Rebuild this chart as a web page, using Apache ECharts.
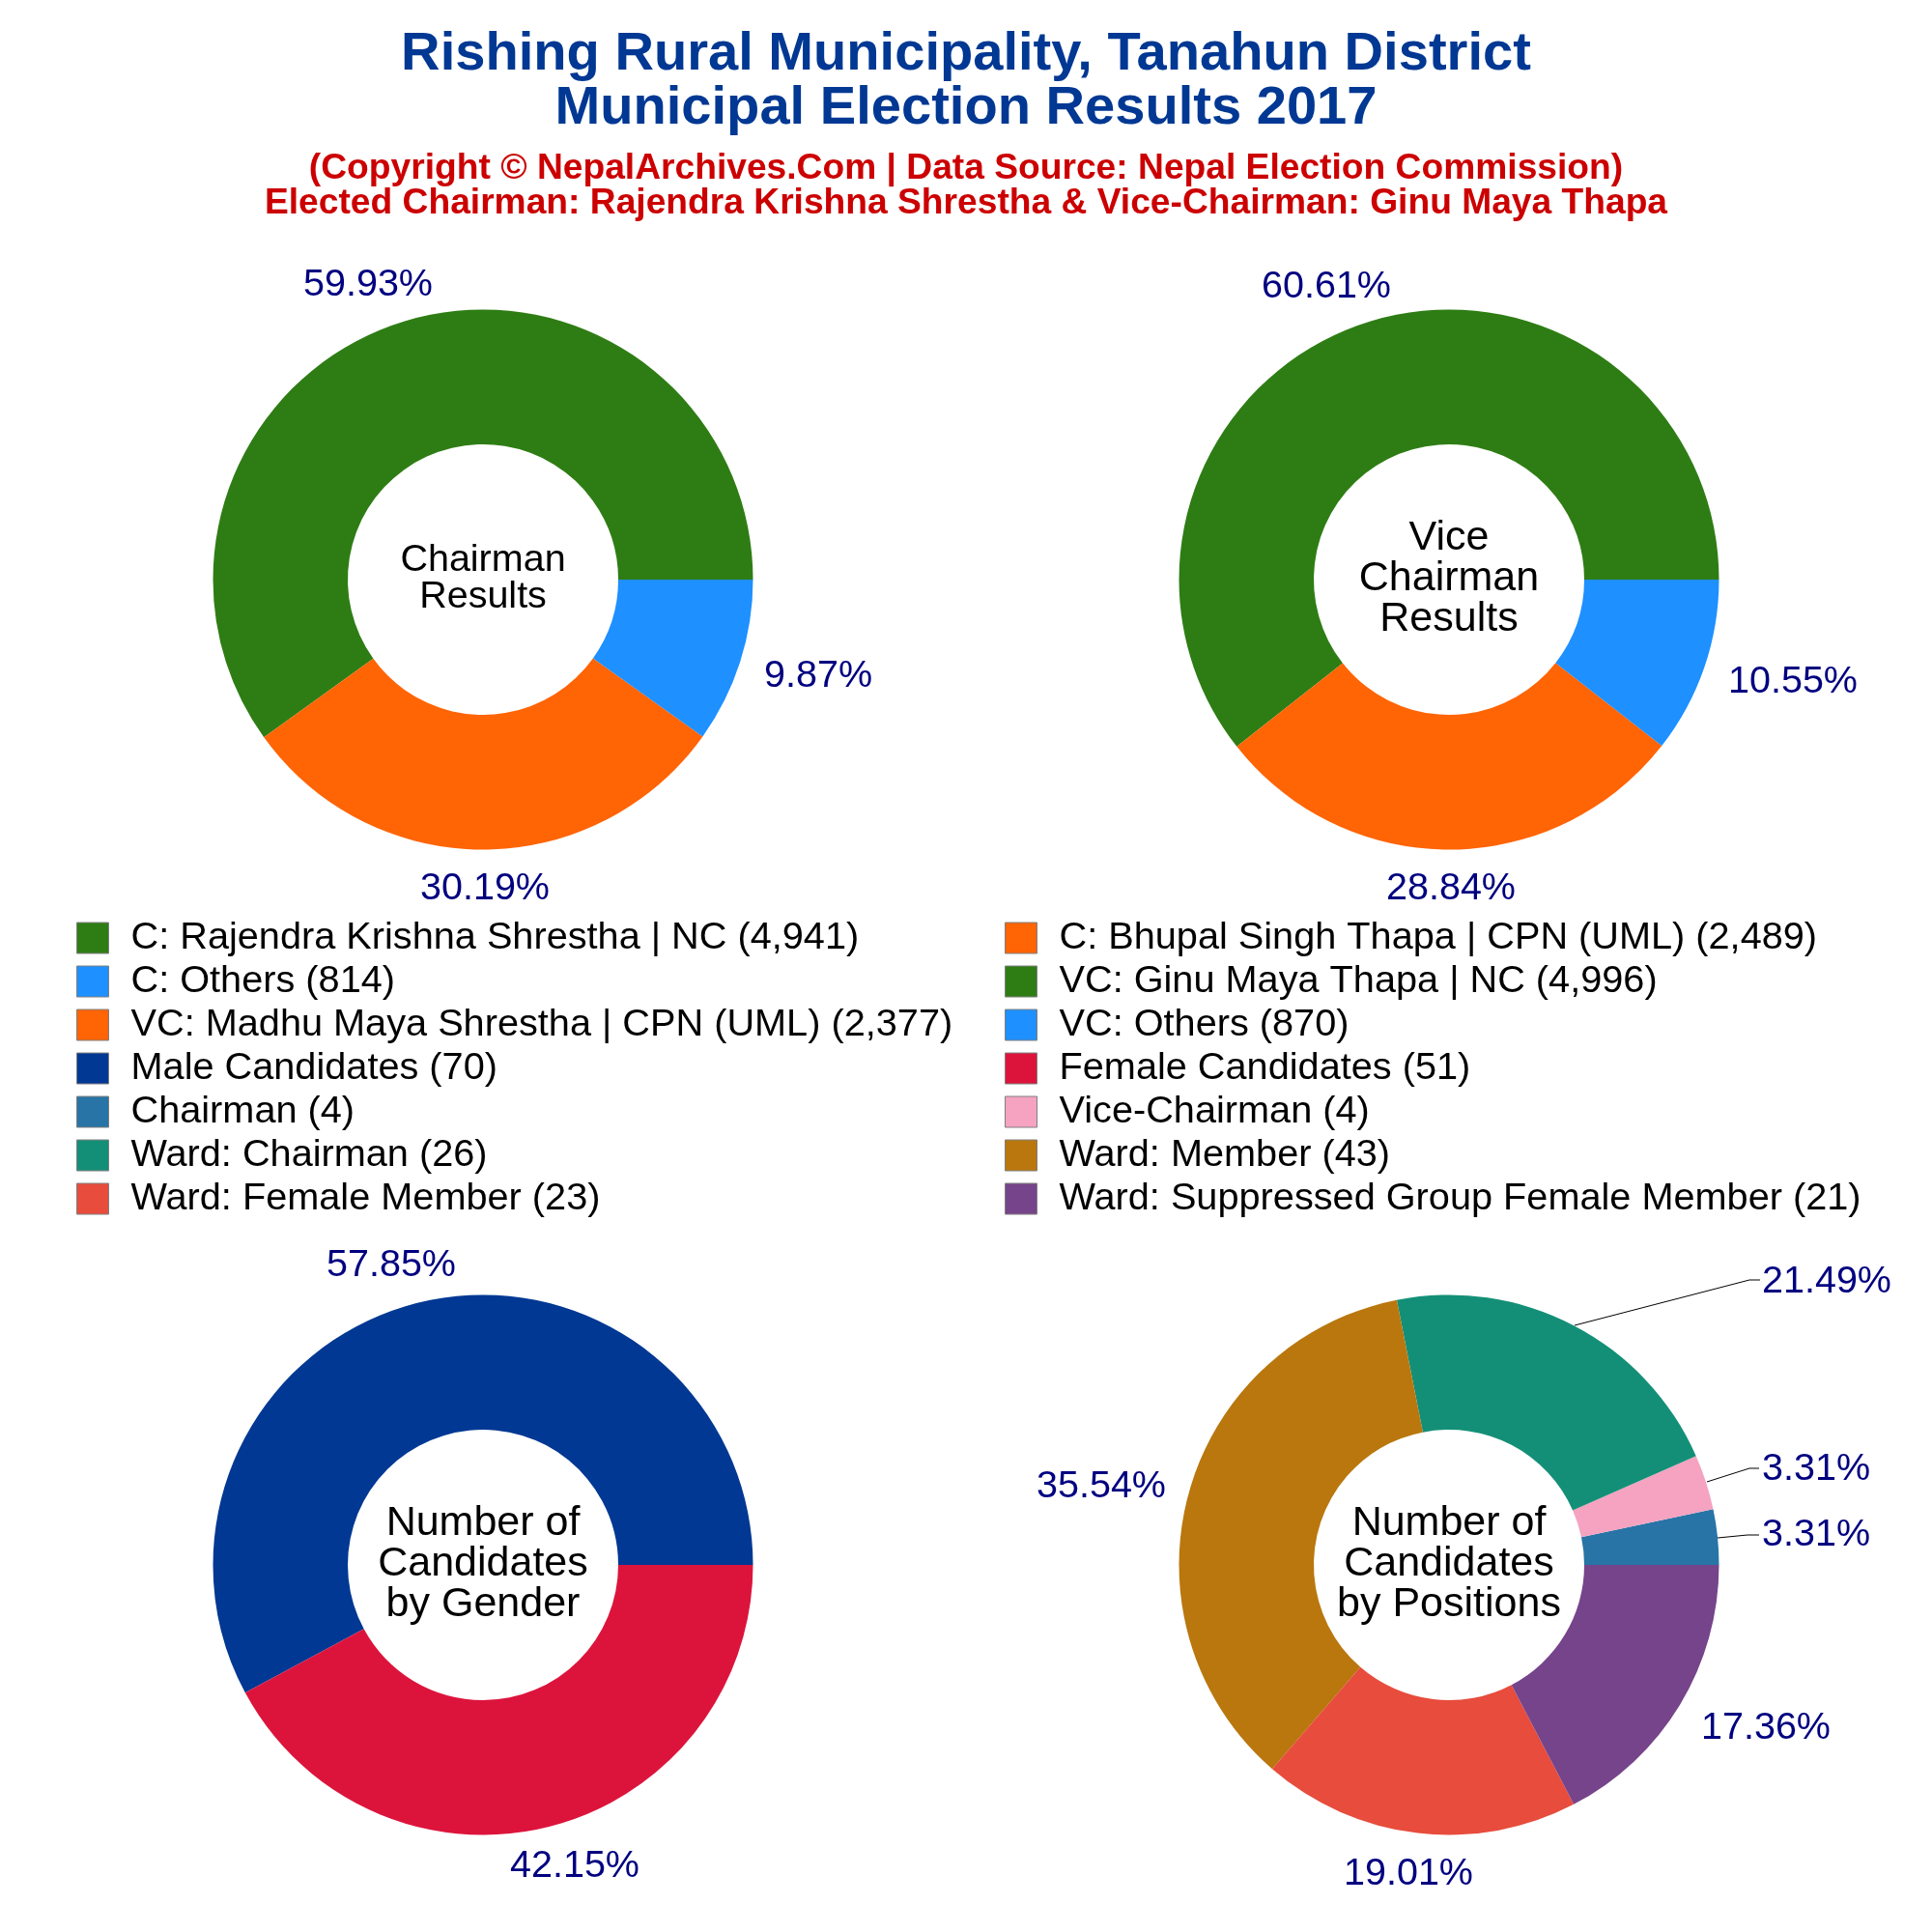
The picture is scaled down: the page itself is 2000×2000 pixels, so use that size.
<!DOCTYPE html>
<html>
<head>
<meta charset="utf-8">
<script src="https://cdn.jsdelivr.net/npm/echarts@6/dist/echarts.min.js"></script>
<style>
  html, body { margin: 0; padding: 0; background: #fff; }
  #chart { width: 2000px; height: 2000px; }
</style>
</head>
<body>
<div id="chart"></div>
<script>
const FONT = '"Liberation Sans", Arial, sans-serif'

// pos = where the percent label sits, line = leader line (only the crowded pie has them)
const pies = [
  {
    center: [500, 600],
    title: 'Chairman\nResults',
    titleSize: 39.5,
    titleLine: 38,
    items: [
      { name: 'C: Rajendra Krishna Shrestha | NC', value: 4941, color: '#2E7D14', pos: [381, 295] },
      { name: 'C: Bhupal Singh Thapa | CPN (UML)', value: 2489, color: '#FF6405', pos: [502, 920] },
      { name: 'C: Others', value: 814, color: '#1E90FF', pos: [847, 700] }
    ]
  },
  {
    center: [1500, 600],
    title: 'Vice\nChairman\nResults',
    titleSize: 43,
    titleLine: 42,
    items: [
      { name: 'VC: Ginu Maya Thapa | NC', value: 4996, color: '#2E7D14', pos: [1373, 297] },
      { name: 'VC: Madhu Maya Shrestha | CPN (UML)', value: 2377, color: '#FF6405', pos: [1502, 920] },
      { name: 'VC: Others', value: 870, color: '#1E90FF', pos: [1856, 706] }
    ]
  },
  {
    center: [500, 1620],
    title: 'Number of\nCandidates\nby Gender',
    titleSize: 43,
    titleLine: 42,
    items: [
      { name: 'Male Candidates', value: 70, color: '#003893', pos: [405, 1310] },
      { name: 'Female Candidates', value: 51, color: '#DC143C', pos: [595, 1932] }
    ]
  },
  {
    center: [1500, 1620],
    title: 'Number of\nCandidates\nby Positions',
    titleSize: 43,
    titleLine: 42,
    items: [
      { name: 'Chairman', value: 4, color: '#2874A6', pos: [1880, 1589], line: [[1778, 1592], [1809, 1589], [1821, 1589]] },
      { name: 'Vice-Chairman', value: 4, color: '#F5A3C0', pos: [1880, 1521], line: [[1767, 1534], [1811, 1520], [1821, 1520]] },
      { name: 'Ward: Chairman', value: 26, color: '#148F77', pos: [1891, 1327], line: [[1630, 1372], [1811, 1325], [1822, 1325]] },
      { name: 'Ward: Member', value: 43, color: '#B9770E', pos: [1140, 1539] },
      { name: 'Ward: Female Member', value: 23, color: '#E74C3C', pos: [1458, 1940] },
      { name: 'Ward: Suppressed Group Female Member', value: 21, color: '#76448A', pos: [1828, 1789] }
    ]
  }
]

function legendName (item) {
  return `${item.name} (${item.value.toLocaleString('en-US')})`
}

const byName = {}
pies.forEach(p => p.items.forEach(item => { byName[item.name] = item }))

const leftRows = ['C: Rajendra Krishna Shrestha | NC', 'C: Others', 'VC: Madhu Maya Shrestha | CPN (UML)',
  'Male Candidates', 'Chairman', 'Ward: Chairman', 'Ward: Female Member']
const rightRows = ['C: Bhupal Singh Thapa | CPN (UML)', 'VC: Ginu Maya Thapa | NC', 'VC: Others',
  'Female Candidates', 'Vice-Chairman', 'Ward: Member', 'Ward: Suppressed Group Female Member']

function legend (left, rows) {
  return {
    orient: 'vertical',
    left: left,
    top: 951,
    padding: 0,
    itemWidth: 33,
    itemHeight: 32,
    itemGap: 5,
    selectedMode: false,
    icon: 'rect',
    textStyle: { fontFamily: FONT, fontSize: 39.7, lineHeight: 32, color: '#000', padding: [0, 0, 0, 18] },
    itemStyle: { borderColor: '#808080', borderWidth: 1 },
    data: rows.map(r => legendName(byName[r]))
  }
}

const titles = [
  {
    text: 'Rishing Rural Municipality, Tanahun District\nMunicipal Election Results 2017',
    left: 1000,
    top: 29,
    textAlign: 'center',
    padding: 0,
    textStyle: { fontFamily: FONT, fontSize: 56.1, fontWeight: 'bold', lineHeight: 56, color: '#003893' }
  },
  {
    text: '(Copyright © NepalArchives.Com | Data Source: Nepal Election Commission)\nElected Chairman: Rajendra Krishna Shrestha & Vice-Chairman: Ginu Maya Thapa',
    left: 1000,
    top: 157,
    textAlign: 'center',
    padding: 0,
    textStyle: { fontFamily: FONT, fontSize: 37.2, fontWeight: 'bold', lineHeight: 36, color: '#CC0000' }
  }
]
pies.forEach(p => {
  const lines = p.title.split('\n').length
  titles.push({
    text: p.title,
    left: p.center[0],
    top: p.center[1] - lines * p.titleLine / 2 - 1,
    textAlign: 'center',
    padding: 0,
    textStyle: { fontFamily: FONT, fontSize: p.titleSize, fontWeight: 'normal', lineHeight: p.titleLine, color: '#000' }
  })
})

const series = pies.map(p => {
  const total = p.items.reduce((sum, item) => sum + item.value, 0)
  return {
    type: 'pie',
    center: p.center,
    radius: [140, 279.5],
    startAngle: 0,
    clockwise: false,
    avoidLabelOverlap: false,
    animation: false,
    silent: true,
    emphasis: { disabled: true },
    data: p.items.map(item => ({
      name: legendName(item),
      value: item.value,
      itemStyle: { color: item.color },
      labelLine: { show: !!item.line, lineStyle: { color: '#000', width: 1 } }
    })),
    label: {
      show: true,
      position: 'outside',
      formatter: params => (params.value / total * 100).toFixed(2) + '%',
      fontFamily: FONT,
      fontSize: 39.5,
      color: '#000080'
    },
    labelLayout: params => {
      const item = p.items[params.dataIndex]
      const layout = { x: item.pos[0], y: item.pos[1], align: 'center', verticalAlign: 'middle' }
      if (item.line) layout.labelLinePoints = item.line
      return layout
    }
  }
})

const chart = echarts.init(document.getElementById('chart'))
chart.setOption({
  backgroundColor: '#fff',
  animation: false,
  title: titles,
  legend: [legend(79, leftRows), legend(1040, rightRows)],
  series: series
})
</script>
</body>
</html>
